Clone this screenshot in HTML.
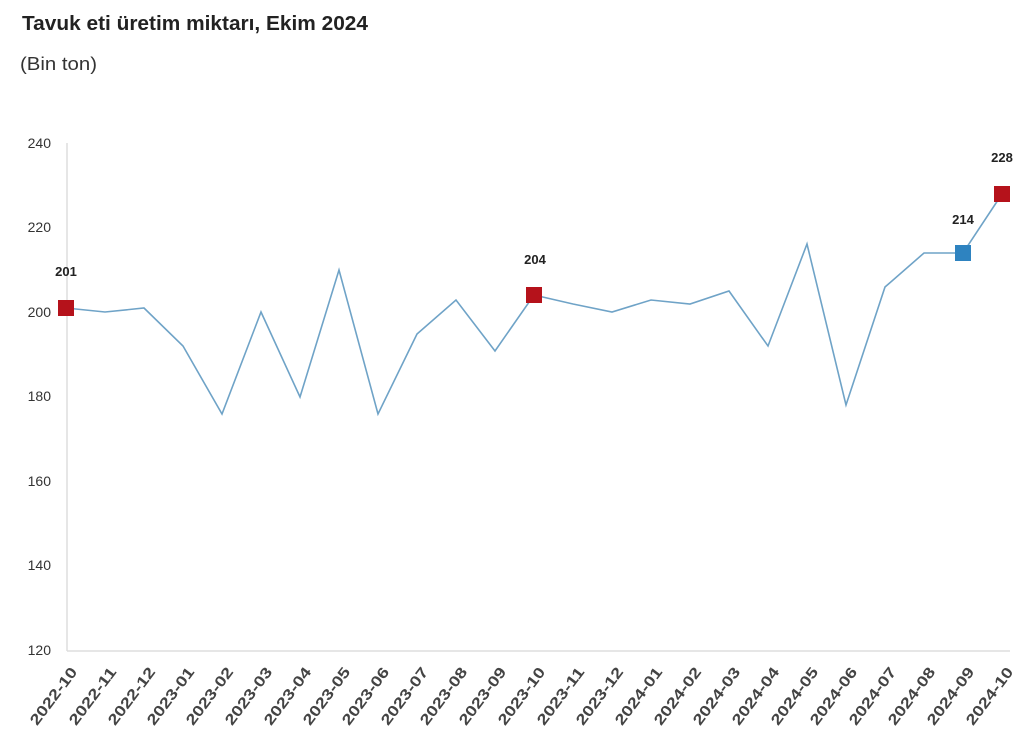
<!DOCTYPE html>
<html><head><meta charset="utf-8"><style>
html,body{margin:0;padding:0;background:#fff;}
svg{display:block;font-family:"Liberation Sans",sans-serif;}
</style></head><body>
<svg width="1024" height="749" viewBox="0 0 1024 749" xmlns="http://www.w3.org/2000/svg">
<text x="22" y="30" font-size="20" font-weight="bold" fill="#222" textLength="346" lengthAdjust="spacingAndGlyphs">Tavuk eti üretim miktarı, Ekim 2024</text>
<text x="20" y="70" font-size="18" fill="#333" textLength="77" lengthAdjust="spacingAndGlyphs">(Bin ton)</text>
<g stroke="#ddd" stroke-width="1.5" fill="none">
<line x1="67" y1="143" x2="67" y2="651"/>
<line x1="67" y1="651" x2="1010" y2="651"/>
</g>
<g font-size="14" fill="#333" text-anchor="end">
<text x="51" y="148">240</text>
<text x="51" y="232">220</text>
<text x="51" y="317">200</text>
<text x="51" y="401">180</text>
<text x="51" y="486">160</text>
<text x="51" y="570">140</text>
<text x="51" y="655">120</text>
</g>
<polyline fill="none" stroke="#6fa3c7" stroke-width="1.6" points="66,308 105,312 144,308 183,346 222,414 261,312 300,397 339,270 378,414 417,334 456,300 495,351 534,295 573,304 612,312 651,300 690,304 729,291 768,346 807,244 846,405 885,287 924,253 963,253 1002,194"/>
<rect x="58" y="300" width="16" height="16" fill="#b5121b"/>
<rect x="526" y="287" width="16" height="16" fill="#b5121b"/>
<rect x="994" y="186" width="16" height="16" fill="#b5121b"/>
<rect x="955" y="245" width="16" height="16" fill="#2e83c0"/>
<g font-size="13" font-weight="bold" fill="#222" text-anchor="middle">
<text x="66" y="276">201</text>
<text x="535" y="264">204</text>
<text x="963" y="224">214</text>
<text x="1002" y="162">228</text>
</g>
<g font-size="15" font-weight="bold" fill="#444" text-anchor="end">
<text transform="translate(78,672) rotate(-53)" textLength="68" lengthAdjust="spacingAndGlyphs">2022-10</text>
<text transform="translate(117,672) rotate(-53)" textLength="68" lengthAdjust="spacingAndGlyphs">2022-11</text>
<text transform="translate(156,672) rotate(-53)" textLength="68" lengthAdjust="spacingAndGlyphs">2022-12</text>
<text transform="translate(195,672) rotate(-53)" textLength="68" lengthAdjust="spacingAndGlyphs">2023-01</text>
<text transform="translate(234,672) rotate(-53)" textLength="68" lengthAdjust="spacingAndGlyphs">2023-02</text>
<text transform="translate(273,672) rotate(-53)" textLength="68" lengthAdjust="spacingAndGlyphs">2023-03</text>
<text transform="translate(312,672) rotate(-53)" textLength="68" lengthAdjust="spacingAndGlyphs">2023-04</text>
<text transform="translate(351,672) rotate(-53)" textLength="68" lengthAdjust="spacingAndGlyphs">2023-05</text>
<text transform="translate(390,672) rotate(-53)" textLength="68" lengthAdjust="spacingAndGlyphs">2023-06</text>
<text transform="translate(429,672) rotate(-53)" textLength="68" lengthAdjust="spacingAndGlyphs">2023-07</text>
<text transform="translate(468,672) rotate(-53)" textLength="68" lengthAdjust="spacingAndGlyphs">2023-08</text>
<text transform="translate(507,672) rotate(-53)" textLength="68" lengthAdjust="spacingAndGlyphs">2023-09</text>
<text transform="translate(546,672) rotate(-53)" textLength="68" lengthAdjust="spacingAndGlyphs">2023-10</text>
<text transform="translate(585,672) rotate(-53)" textLength="68" lengthAdjust="spacingAndGlyphs">2023-11</text>
<text transform="translate(624,672) rotate(-53)" textLength="68" lengthAdjust="spacingAndGlyphs">2023-12</text>
<text transform="translate(663,672) rotate(-53)" textLength="68" lengthAdjust="spacingAndGlyphs">2024-01</text>
<text transform="translate(702,672) rotate(-53)" textLength="68" lengthAdjust="spacingAndGlyphs">2024-02</text>
<text transform="translate(741,672) rotate(-53)" textLength="68" lengthAdjust="spacingAndGlyphs">2024-03</text>
<text transform="translate(780,672) rotate(-53)" textLength="68" lengthAdjust="spacingAndGlyphs">2024-04</text>
<text transform="translate(819,672) rotate(-53)" textLength="68" lengthAdjust="spacingAndGlyphs">2024-05</text>
<text transform="translate(858,672) rotate(-53)" textLength="68" lengthAdjust="spacingAndGlyphs">2024-06</text>
<text transform="translate(897,672) rotate(-53)" textLength="68" lengthAdjust="spacingAndGlyphs">2024-07</text>
<text transform="translate(936,672) rotate(-53)" textLength="68" lengthAdjust="spacingAndGlyphs">2024-08</text>
<text transform="translate(975,672) rotate(-53)" textLength="68" lengthAdjust="spacingAndGlyphs">2024-09</text>
<text transform="translate(1014,672) rotate(-53)" textLength="68" lengthAdjust="spacingAndGlyphs">2024-10</text>
</g>
</svg>
</body></html>
